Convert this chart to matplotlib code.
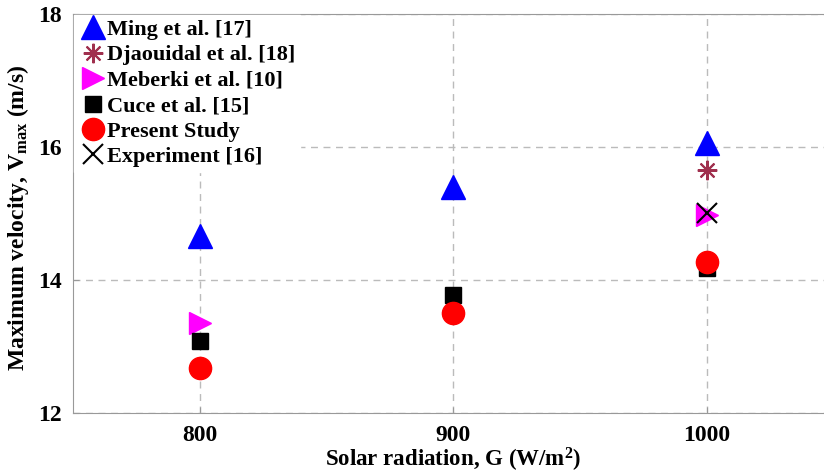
import matplotlib
matplotlib.use('Agg')
import matplotlib.pyplot as plt

plt.rcParams['font.family'] = 'Liberation Serif'
plt.rcParams['font.weight'] = 'bold'
plt.rcParams['mathtext.fontset'] = 'custom'
plt.rcParams['mathtext.rm'] = 'Liberation Serif:bold'
plt.rcParams['mathtext.it'] = 'Liberation Serif:bold'

# data
ming_x = [800, 900, 1000]
ming_v = [14.66, 15.39, 16.06]
djaou_x = [1000]
djaou_v = [15.65]
meberki_x = [800, 1000]
meberki_v = [13.35, 14.98]
cuce_x = [800, 900, 1000]
cuce_v = [13.08, 13.77, 14.18]
present_x = [800, 900, 1000]
present_v = [12.68, 13.51, 14.27]
exp_x = [1000]
exp_v = [15.0]

fig = plt.figure(figsize=(8.24, 4.73), dpi=100)
ax = fig.add_axes([0.0886, 0.127, 0.923, 0.8436])

ax.plot(ming_x, ming_v, '^', color='#0000ff', ms=17, ls='none', label='Ming et al. [17]')
ax.plot(djaou_x, djaou_v, marker=(8, 2, 0), color='#a0304e', mew=1.5, ms=14, ls='none', label='Djaouidal et al. [18]')
ax.plot(meberki_x, meberki_v, '>', color='#ff00ff', ms=16, ls='none', label='Meberki et al. [10]')
ax.plot(cuce_x, cuce_v, 's', color='black', ms=12, ls='none', label='Cuce et al. [15]')
ax.plot(present_x, present_v, 'o', color='#ff0000', ms=16, ls='none', label='Present Study')
ax.plot(exp_x, exp_v, 'x', color='black', mew=1.5, ms=14, ls='none', label='Experiment [16]')

ax.set_xlim(750, 1050)
ax.set_ylim(12, 18)
ax.set_xticks([800, 900, 1000])
ax.set_yticks([12, 14, 16, 18])
ax.grid(True, ls='--', color='#bbbbbb', lw=1, dashes=(5, 4))
ax.set_axisbelow(True)
for s in ax.spines.values():
    s.set_color('#999999')
ax.tick_params(direction='in', length=4, color='#999999', labelsize=17, pad=8)
ax.tick_params(axis='x', pad=9)

ax.set_xlabel('Solar radiation, G (W/m$^2$)', fontsize=16.5, fontweight='bold')
ax.xaxis.set_label_coords(0.5, -0.082)
ax.set_ylabel('Maximum velocity, V$_{\\rm max}$ (m/s)', fontsize=17, fontweight='bold')
ax.yaxis.set_label_coords(-0.055, 0.49)

leg = ax.legend(loc='upper left', fontsize=16, frameon=True, fancybox=False,
                edgecolor='white', facecolor='white', framealpha=1,
                handletextpad=0.0, borderpad=0.2, labelspacing=0.22, handlelength=1.3,
                borderaxespad=0.05)
for t in leg.get_texts():
    t.set_fontweight('bold')

fig.savefig('out.png', dpi=100)
